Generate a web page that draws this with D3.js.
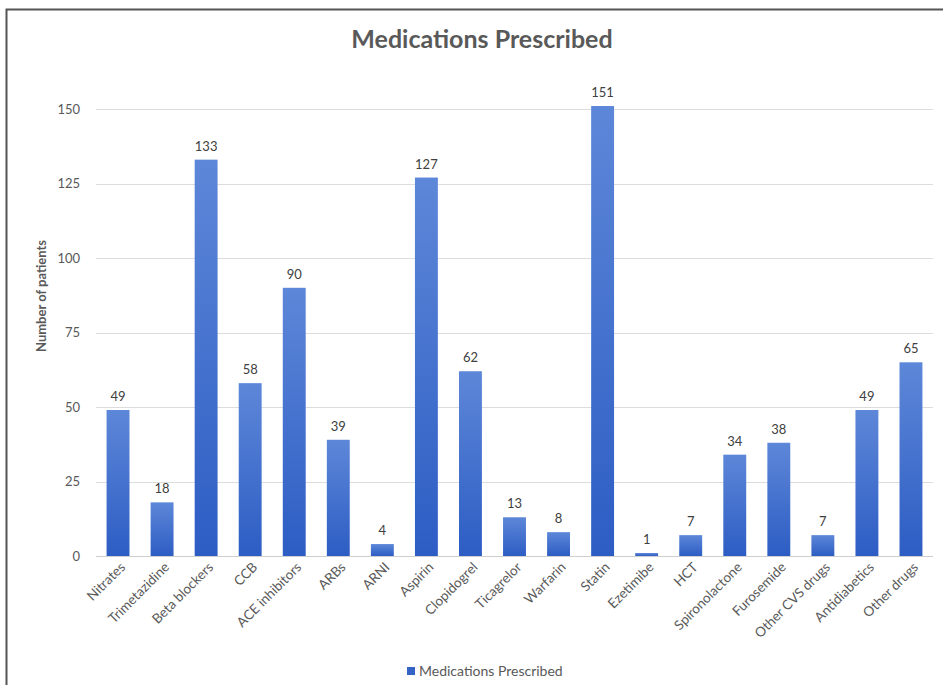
<!DOCTYPE html>
<html>
<head>
<meta charset="utf-8">
<script src="https://cdn.jsdelivr.net/npm/d3@7"></script>
<style>
  body { margin: 0; background: #fff; }
  svg text { font-family: Lato, "Open Sans", sans-serif; }
</style>
</head>
<body>
<script>
// chart data
var medications = ["Nitrates", "Trimetazidine", "Beta blockers", "CCB", "ACE inhibitors", "ARBs", "ARNI",
  "Aspirin", "Clopidogrel", "Ticagrelor", "Warfarin", "Statin", "Ezetimibe", "HCT", "Spironolactone",
  "Furosemide", "Other CVS drugs", "Antidiabetics", "Other drugs"];
var patients = [49, 18, 133, 58, 90, 39, 4, 127, 62, 13, 8, 151, 1, 7, 34, 38, 7, 49, 65];
var yTicks = [0, 25, 50, 75, 100, 125, 150];
var seriesName = "Medications Prescribed";

var W = 943, H = 685;
var plotL = 96, plotR = 933, plotT = 109, plotB = 556;

var svg = d3.select("body").append("svg")
  .attr("width", W)
  .attr("height", H);

// frame
svg.append("path")
  .attr("d", "M6.5," + H + " V9.5 H" + W)
  .attr("fill", "none")
  .attr("stroke", "#555")
  .attr("stroke-width", 2);

var defs = svg.append("defs");
var grad = defs.append("linearGradient")
  .attr("id", "barGrad")
  .attr("x1", 0).attr("y1", 0).attr("x2", 0).attr("y2", 1);
grad.append("stop").attr("offset", "0%").attr("stop-color", "#5d87d8");
grad.append("stop").attr("offset", "100%").attr("stop-color", "#2d5dc4");

var x = d3.scaleBand()
  .domain(medications)
  .range([plotL, plotR])
  .paddingInner(0.48)
  .paddingOuter(0.24);

var y = d3.scaleLinear()
  .domain([0, 150])
  .range([plotB, plotT]);

// gridlines
svg.append("g")
  .selectAll("line")
  .data(yTicks)
  .join("line")
  .attr("x1", plotL)
  .attr("x2", plotR)
  .attr("y1", function(d) { return Math.round(y(d)) + 0.5; })
  .attr("y2", function(d) { return Math.round(y(d)) + 0.5; })
  .attr("stroke", function(d) { return d === 0 ? "#cfcfcf" : "#dcdcdc"; })
  .attr("stroke-width", 1);

// y axis labels
var yAxis = d3.axisLeft(y).tickValues(yTicks).tickSize(0).tickPadding(16);
var yg = svg.append("g")
  .attr("transform", "translate(" + plotL + ",0)")
  .call(yAxis);
yg.select(".domain").remove();
yg.selectAll("text")
  .attr("fill", "#595959")
  .style("font-size", "13px");

// bars
svg.append("g")
  .selectAll("rect")
  .data(patients)
  .join("rect")
  .attr("x", function(d, i) { return x(medications[i]); })
  .attr("y", function(d) { return y(d); })
  .attr("width", x.bandwidth())
  .attr("height", function(d) { return plotB - y(d); })
  .attr("fill", "url(#barGrad)");

// value labels
svg.append("g")
  .selectAll("text")
  .data(patients)
  .join("text")
  .attr("x", function(d, i) { return x(medications[i]) + x.bandwidth() / 2; })
  .attr("y", function(d) { return y(d) - 9; })
  .attr("text-anchor", "middle")
  .attr("fill", "#404040")
  .style("font-size", "13px")
  .text(function(d) { return d; });

// x axis labels
var xAxis = d3.axisBottom(x).tickSize(0).tickPadding(0);
var xg = svg.append("g")
  .attr("transform", "translate(0," + plotB + ")")
  .call(xAxis);
xg.select(".domain").remove();
xg.selectAll("text")
  .attr("fill", "#595959")
  .style("font-size", "13.5px")
  .attr("text-anchor", "end")
  .attr("y", 0)
  .attr("dy", null)
  .attr("transform", "translate(8,12) rotate(-45)");

// title
svg.append("text")
  .attr("x", 482)
  .attr("y", 48)
  .attr("text-anchor", "middle")
  .attr("fill", "#595959")
  .style("font-size", "25px")
  .style("font-weight", "bold")
  .text("Medications Prescribed");

// y axis title
svg.append("text")
  .attr("transform", "translate(46,296) rotate(-90)")
  .attr("text-anchor", "middle")
  .attr("fill", "#595959")
  .style("font-size", "13px")
  .style("font-weight", "bold")
  .text("Number of patients");

// legend
var legend = svg.append("g").attr("transform", "translate(407,667)");
legend.append("rect")
  .attr("width", 8)
  .attr("height", 8)
  .attr("fill", "#3463c8");
legend.append("text")
  .attr("x", 12)
  .attr("y", 9)
  .attr("fill", "#595959")
  .style("font-size", "14px")
  .text(seriesName);
</script>
</body>
</html>
